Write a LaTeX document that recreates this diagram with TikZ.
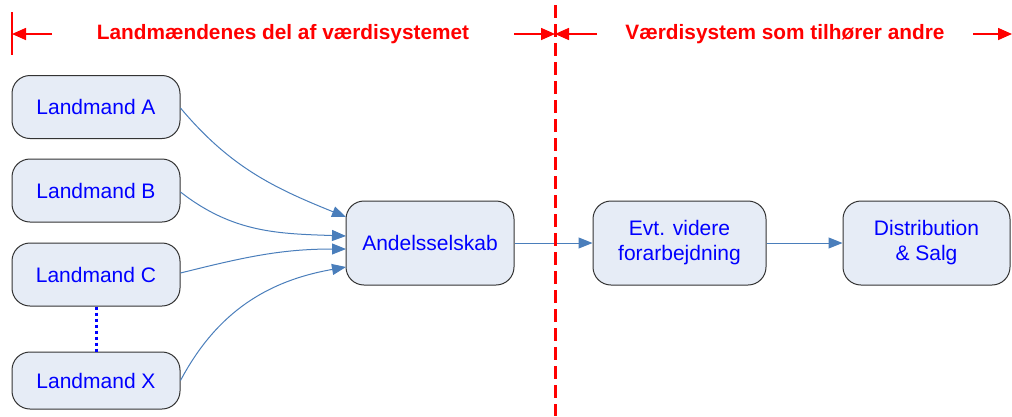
\documentclass[tikz,border=0pt]{standalone}
\usepackage{fontspec}
\setmainfont{Liberation Sans}
\usetikzlibrary{arrows.meta}
\definecolor{boxfill}{HTML}{E6ECF6}
\definecolor{boxline}{HTML}{333333}
\definecolor{flow}{HTML}{4A7EBB}
\definecolor{alertred}{HTML}{FF0000}
\definecolor{txt}{HTML}{0000FF}
\begin{document}
\begin{tikzpicture}[x=1pt,y=1pt,
  stage/.style={draw=boxline, line width=1pt, fill=boxfill, rounded corners=18pt,
    minimum width=168pt, minimum height=63pt, inner sep=0pt, align=center,
    text=txt, font=\fontsize{21}{25}\selectfont},
  flowarrow/.style={draw=flow, line width=1pt, -{Triangle[length=14pt,width=11pt]}},
  heading/.style={text=alertred, font=\bfseries\fontsize{20.8}{24}\selectfont},
  span/.style={draw=alertred, line width=1.6pt, -{Triangle[length=14pt,width=12pt]}}]
\useasboundingbox (0,0) rectangle (1012,-416);

% farmers
\node[stage] (a) at (96,-107) {Landmand A};
\node[stage] (b) at (96,-190.5) {Landmand B};
\node[stage] (c) at (96,-274.5) {Landmand C};
\node[stage, minimum height=57pt] (x) at (96,-380.5) {Landmand X};
\draw[txt, line width=3pt, dash pattern=on 3pt off 3pt] (c.south) -- (x.north);

% chain
\node[stage, minimum height=84pt] (coop) at (430,-243) {Andelsselskab};
\node[stage, minimum height=84pt, minimum width=173pt] (proc) at (679.5,-243) {Evt. videre\\forarbejdning};
\node[stage, minimum height=84pt, minimum width=167pt] (dist) at (926.5,-243) {Distribution\\\& Salg};

\coordinate (ia) at (346,-217);
\coordinate (ib) at (346,-236);
\coordinate (ic) at (346,-249);
\coordinate (ix) at (346,-267);
\draw[flowarrow] (a.east |- 0,-108) to[out=-50,in=158] (ia);
\draw[flowarrow] (b.east |- 0,-192) to[out=-38,in=178] (ib);
\draw[flowarrow] (c.east |- 0,-273) to[out=14,in=180] (ic);
\draw[flowarrow] (x.east) to[out=62,in=190] (ix);
\draw[flowarrow] (coop) -- (proc);
\draw[flowarrow] (proc) -- (dist);

% boundary of the farmers' part
\coordinate (top) at (555,-5);
\coordinate (bot) at (555,-416);
\draw[alertred, line width=3pt, dash pattern=on 13pt off 6pt] (top) -- (bot);

% headings with span arrows
\coordinate (lt) at (12,-12);
\coordinate (lb) at (12,-55);
\draw[alertred, line width=1.6pt] (lt) -- (lb);
\coordinate (l0) at (12,-34);
\coordinate (l1) at (52,-34);
\coordinate (m0) at (514,-34);
\coordinate (m1) at (555,-34);
\coordinate (r0) at (597,-34);
\coordinate (r1) at (973,-34);
\coordinate (r2) at (1012,-34);
\draw[span] (l1) -- (l0);
\draw[span] (m0) -- (m1);
\draw[span] (r0) -- (m1);
\draw[span] (r1) -- (r2);
\node[heading] (h1) at (283,-34) {Landmændenes del af værdisystemet};
\node[heading] (h2) at (785,-34) {Værdisystem som tilhører andre};
\end{tikzpicture}
\end{document}
